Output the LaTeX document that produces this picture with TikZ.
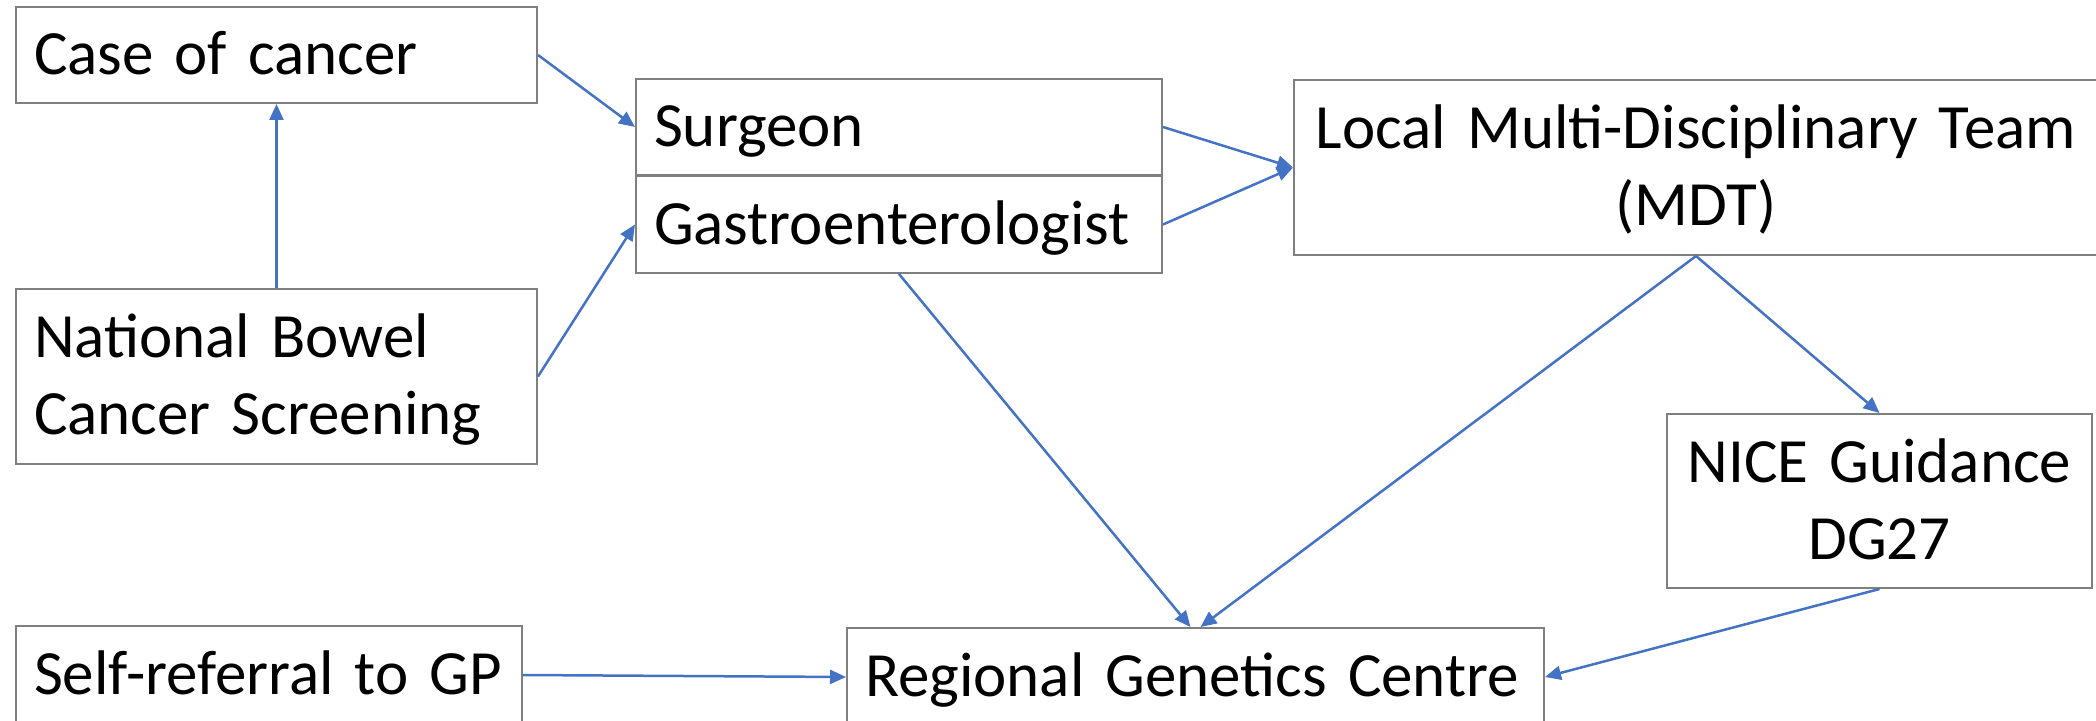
\documentclass[tikz,border=0pt]{standalone}
\usepackage{fontspec}
\setmainfont{Carlito}
\usetikzlibrary{arrows.meta}
\definecolor{boxgray}{HTML}{7F7F7F}
\definecolor{arrowblue}{HTML}{4472C4}
\begin{document}
\begin{tikzpicture}[x=0.5pt,y=-0.5pt,
  box/.style={draw=boxgray,line width=1pt,inner xsep=9pt,inner ysep=0pt,
    font=\fontsize{31.5pt}{38.5pt}\selectfont,text height=19.8pt,text depth=0pt},
  leftbox/.style={box,align=left},
  midbox/.style={box,align=center},
  twoline/.style={text depth=38.5pt},
  conn/.style={draw=arrowblue,line width=1.25pt,-{Triangle[length=8pt,width=7pt]}}]
\useasboundingbox (0,0) rectangle (2096,721);
\clip (0,0) rectangle (2096,721);

\node[leftbox,minimum width=260.5pt,minimum height=48pt,text width=242.5pt] (case) at (276.5,55) {Case of cancer};
\node[leftbox,twoline,minimum width=260.5pt,minimum height=87.5pt,text width=242.5pt] (nbcs) at (276.5,376.5) {National Bowel\\Cancer Screening};
\node[leftbox,minimum width=263pt,minimum height=48pt,text width=245pt] (surgeon) at (899,127) {Surgeon};
\node[leftbox,minimum width=263pt,minimum height=48.5pt,text width=245pt] (gastro) at (899,224.5) {Gastroenterologist};
\node[midbox,twoline,minimum width=402pt,minimum height=87.5pt,text width=384pt] (mdt) at (1696,167.5) {Local Multi-Disciplinary Team\\(MDT)};
\node[midbox,twoline,minimum width=212.5pt,minimum height=87pt,text width=194.5pt] (nice) at (1879.5,501) {NICE Guidance\\DG27};
\node[leftbox,minimum width=253pt,minimum height=49pt,text width=235pt] (self) at (269,675) {Self-referral to GP};
\node[leftbox,minimum width=348.5pt,minimum height=49pt,text width=330.5pt] (rgc) at (1195.5,677) {Regional Genetics Centre};

\draw[conn] (nbcs.north) -- (case.south);
\draw[conn] (case.east) -- (surgeon.west);
\draw[conn] (nbcs.east) -- (gastro.west);
\draw[conn] (surgeon.east) -- (mdt.west);
\draw[conn] (gastro.east) -- (mdt.west);
\draw[conn] (gastro.south) -- ([xshift=-2.5pt]rgc.north);
\draw[conn] (mdt.south) -- ([xshift=2.5pt]rgc.north);
\draw[conn] (mdt.south) -- (nice.north);
\draw[conn] (nice.south) -- (rgc.east);
\draw[conn] (self.east) -- (rgc.west);
\end{tikzpicture}
\end{document}
